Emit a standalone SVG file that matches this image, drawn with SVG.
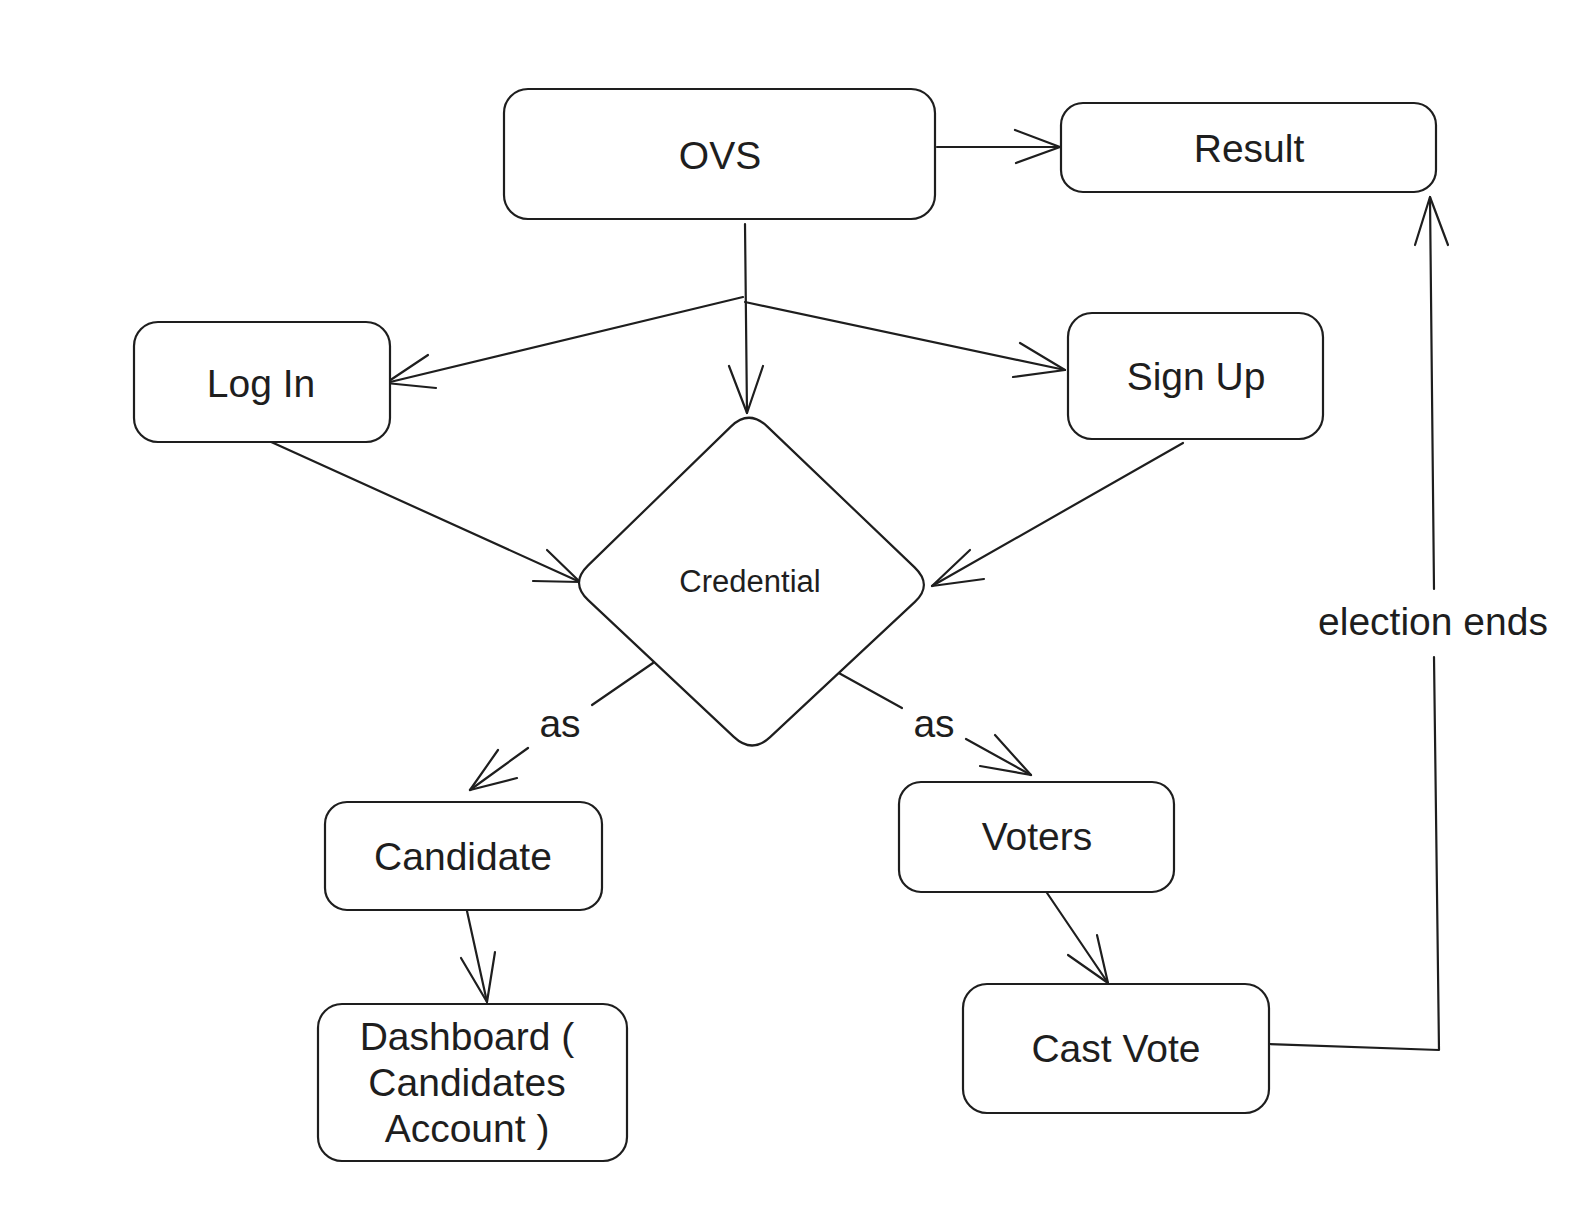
<svg xmlns="http://www.w3.org/2000/svg" width="1595" height="1212" viewBox="0 0 1595 1212">
<style>
.box{fill:#ffffff;stroke:#1e1e1e;stroke-width:2.2;}
.ln{fill:none;stroke:#1e1e1e;stroke-width:2.2;stroke-linecap:round;stroke-linejoin:round;}
.t{font-family:"Liberation Sans",Arial,sans-serif;font-size:39px;fill:#1e1e1e;text-anchor:middle;}
.ts{font-family:"Liberation Sans",Arial,sans-serif;font-size:31px;fill:#1e1e1e;text-anchor:middle;}
</style>
<rect width="1595" height="1212" fill="#ffffff"/>
<g id="connectors">
<path class="ln" d="M937,147 L1060,147"/>
<path class="ln" d="M1015,130 L1060,147 L1016,163"/>
<path class="ln" d="M745,224 L747,413"/>
<path class="ln" d="M729,366 L747,413 L763,366"/>
<path class="ln" d="M743,297 L386,383"/>
<path class="ln" d="M428,355 L386,383 L436,388"/>
<path class="ln" d="M745,302 L1065,370"/>
<path class="ln" d="M1020,343 L1065,370 L1013,377"/>
<path class="ln" d="M258,436 L580,582"/>
<path class="ln" d="M547,550 L580,582 L533,581"/>
<path class="ln" d="M1183,443 L932,586"/>
<path class="ln" d="M970,550 L932,586 L984,579"/>
<path class="ln" d="M653,663 L592,705"/>
<path class="ln" d="M528,748 L470,790"/>
<path class="ln" d="M498,750 L470,790 L517,778"/>
<path class="ln" d="M837,672 L902,708"/>
<path class="ln" d="M966,739 L1031,775"/>
<path class="ln" d="M995,735 L1031,775 L980,766"/>
<path class="ln" d="M465,902 L487,1002"/>
<path class="ln" d="M461,958 L487,1002 L495,952"/>
<path class="ln" d="M1043,887 L1108,983"/>
<path class="ln" d="M1068,955 L1108,983 L1097,935"/>
<path class="ln" d="M1269,1044 L1439,1050 L1434,657"/>
<path class="ln" d="M1434,589 L1430,197"/>
<path class="ln" d="M1415,245 L1430,197 L1448,245"/>
<text class="t" x="560" y="737">as</text>
<text class="t" x="934" y="737">as</text>
<text class="t" x="1433" y="635">election ends</text>
</g>
<g id="node-ovs">
<rect class="box" x="504" y="89" width="431" height="130" rx="24"/>
<text class="t" x="720" y="169">OVS</text>
</g>
<g id="node-result">
<rect class="box" x="1061" y="103" width="375" height="89" rx="22"/>
<text class="t" x="1249" y="162">Result</text>
</g>
<g id="node-login">
<rect class="box" x="134" y="322" width="256" height="120" rx="24"/>
<text class="t" x="261" y="397">Log In</text>
</g>
<g id="node-signup">
<rect class="box" x="1068" y="313" width="255" height="126" rx="24"/>
<text class="t" x="1196" y="390">Sign Up</text>
</g>
<g id="node-credential">
<path class="box" d="M767.4,426.6 L914.6,567.4 Q933,585 914.9,601.9 L770.1,737.1 Q752,754 733.8,736.9 L588.2,600.1 Q570,583 587.9,565.6 L731.1,426.4 Q749,409 767.4,426.6 Z"/>
<text class="ts" x="750" y="592">Credential</text>
</g>
<g id="node-candidate">
<rect class="box" x="325" y="802" width="277" height="108" rx="22"/>
<text class="t" x="463" y="870">Candidate</text>
</g>
<g id="node-dashboard">
<rect class="box" x="318" y="1004" width="309" height="157" rx="24"/>
<text class="t" x="467" y="1050">Dashboard (</text>
<text class="t" x="467" y="1096">Candidates</text>
<text class="t" x="467" y="1142">Account )</text>
</g>
<g id="node-voters">
<rect class="box" x="899" y="782" width="275" height="110" rx="22"/>
<text class="t" x="1037" y="850">Voters</text>
</g>
<g id="node-castvote">
<rect class="box" x="963" y="984" width="306" height="129" rx="24"/>
<text class="t" x="1116" y="1062">Cast Vote</text>
</g>
</svg>
